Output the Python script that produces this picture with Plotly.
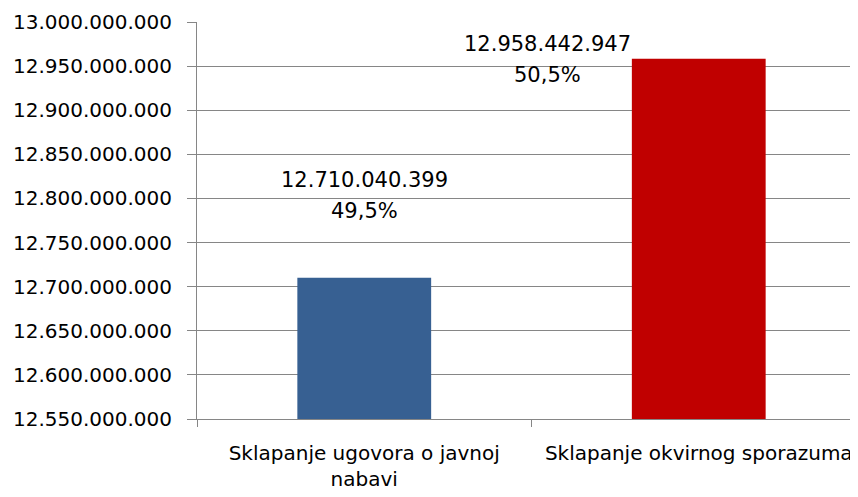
import plotly.graph_objects as go

categories = ["Sklapanje ugovora o javnoj<br>nabavi", "Sklapanje okvirnog sporazuma"]
values = [12710040399, 12958442947]
percents = ["49,5%", "50,5%"]
value_labels = ["12.710.040.399", "12.958.442.947"]
colors = ["#376092", "#C00000"]

FONT = "DejaVu Sans"
fig = go.Figure(go.Bar(x=categories, y=values, marker=dict(color=colors, line=dict(width=0)), width=0.4))

# label offsets in pixels (labels were moved manually in the original)
label_shift = [(0, 82), (-151, -1)]
for i, (cat, v) in enumerate(zip(categories, values)):
    xs, ys = label_shift[i]
    fig.add_annotation(x=cat, y=v, text=value_labels[i], showarrow=False, xshift=xs, yshift=ys + 16,
                       font=dict(family=FONT, size=21, color="#000"))
    fig.add_annotation(x=cat, y=v, text=percents[i], showarrow=False, xshift=xs, yshift=ys - 15,
                       font=dict(family=FONT, size=21, color="#000"))

# page body adds an 8px offset, compensated in the margins
fig.update_layout(
    width=858, height=497,
    margin=dict(l=189, r=0, t=14, b=86),
    paper_bgcolor="white", plot_bgcolor="white",
    separators=",.",
    showlegend=False,
    font=dict(family=FONT, size=20, color="#000"),
)
fig.update_yaxes(range=[12550000000, 13000000000], dtick=50000000, tickformat=",d",
                 showgrid=True, gridcolor="#868686", gridwidth=1,
                 showline=True, linecolor="#868686", linewidth=1,
                 ticks="outside", ticklen=9, tickcolor="#868686", ticklabelstandoff=11,
                 zeroline=False, automargin=False,
                 tickfont=dict(family=FONT, size=20, color="#000"))
fig.update_xaxes(range=[-0.5, 1.5], type="category", tickson="boundaries",
                 showline=True, linecolor="#868686", linewidth=1,
                 ticks="outside", ticklen=7, tickcolor="#868686", ticklabelstandoff=16,
                 automargin=False,
                 tickfont=dict(family=FONT, size=20, color="#000"))

fig.write_html("out.html")
